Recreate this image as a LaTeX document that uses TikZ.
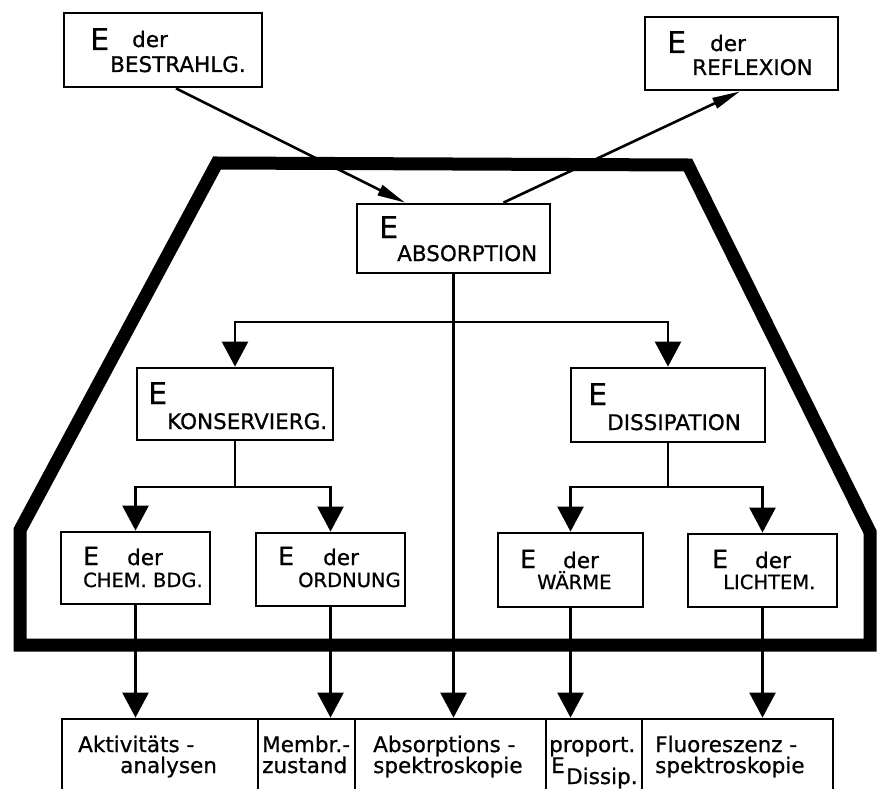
\documentclass[tikz,border=0pt]{standalone}
\usepackage{fontspec}
\setmainfont{DejaVu Sans}[FakeBold=0.8]
\usetikzlibrary{arrows.meta}
\begin{document}
\begin{tikzpicture}[x=1pt,y=-1pt,
  box/.style={draw, line width=2.8pt, inner sep=0pt, fill=white},
  txt/.style={anchor=base west, inner sep=0pt},
  bigE/.style={txt, font=\fontsize{30}{30}\selectfont},
  midE/.style={txt, font=\fontsize{25}{25}\selectfont},
  lab/.style={txt, font=\fontsize{21.5}{21.5}\selectfont},
  slab/.style={txt, font=\fontsize{19.5}{19.5}\selectfont},
  btxt/.style={txt, font=\fontsize{21.5}{21.5}\selectfont},
  conn/.style={line width=2.6pt},
  down/.style={conn, -{Triangle[length=25pt,width=26pt]}},
  diag/.style={conn, -{Triangle[length=28pt,width=11pt]}}]
\useasboundingbox (0,0) rectangle (878,789);
\clip (0,0) rectangle (878,789);
\fill[white] (0,0) rectangle (878,789);

% thick frame
\draw[line width=13pt, line join=miter] (217,163) -- (688,165) -- (870,532) -- (870,645) -- (20,645) -- (20,530) -- cycle;

% boxes
\node[box, minimum width=198pt, minimum height=74pt] (bestr) at (163,50) {};
\node[box, minimum width=193pt, minimum height=73pt] (refl) at (741.5,53.5) {};
\node[box, minimum width=193pt, minimum height=69pt] (absorp) at (453.5,238.5) {};
\node[box, minimum width=196pt, minimum height=72pt] (konserv) at (235,404) {};
\node[box, minimum width=194pt, minimum height=74pt] (dissip) at (668,405) {};
\node[box, minimum width=149pt, minimum height=72pt] (chem) at (135.5,568) {};
\node[box, minimum width=149pt, minimum height=73pt] (ordn) at (330.5,569.5) {};
\node[box, minimum width=145pt, minimum height=74pt] (waerme) at (570.5,570) {};
\node[box, minimum width=149pt, minimum height=73pt] (licht) at (762.5,570.5) {};

\node[box, minimum width=196pt, minimum height=111pt] (akt) at (160,774.5) {};
\node[box, minimum width=97pt, minimum height=111pt] (membr) at (306.5,774.5) {};
\node[box, minimum width=191pt, minimum height=111pt] (absspek) at (450.5,774.5) {};
\node[box, minimum width=96pt, minimum height=111pt] (prop) at (594,774.5) {};
\node[box, minimum width=191pt, minimum height=111pt] (fluor) at (737.5,774.5) {};

% texts in boxes
\node[bigE] at (90,50) {E};
\node[lab] at (132,47) {der};
\node[lab] at (110,72) {BESTRAHLG.};

\node[bigE] at (667,53) {E};
\node[lab] at (710,51) {der};
\node[lab] at (692,75) {REFLEXION};

\node[bigE] at (379,238) {E};
\node[lab] at (397,261) {ABSORPTION};

\node[bigE] at (148,404) {E};
\node[lab] at (167,429) {KONSERVIERG.};

\node[bigE] at (588,405) {E};
\node[lab] at (607,430) {DISSIPATION};

\node[midE] at (83,565) {E};
\node[lab] at (127,565) {der};
\node[slab] at (83,587) {CHEM. BDG.};

\node[midE] at (278,565) {E};
\node[lab] at (323,565) {der};
\node[slab] at (298,587) {ORDNUNG};

\node[midE] at (520,568) {E};
\node[lab] at (563,568) {der};
\node[slab] at (537,589) {WÄRME};

\node[midE] at (712,568) {E};
\node[lab] at (755,568) {der};
\node[slab] at (723,589) {LICHTEM.};

\node[btxt] at (78,752) {Aktivitäts -};
\node[btxt] at (120,773) {analysen};
\node[btxt] at (262,752) {Membr.-};
\node[btxt] at (262,773) {zustand};
\node[btxt] at (373,752) {Absorptions -};
\node[btxt] at (373,773) {spektroskopie};
\node[btxt] at (549,752) {proport.};
\node[btxt] at (551,773) {E};
\node[lab] at (566,784) {Dissip.};
\node[btxt] at (655,752) {Fluoreszenz -};
\node[btxt] at (655,773) {spektroskopie};

% connectors
\coordinate (b1) at (453.5,322);
\coordinate (b2) at (235,487);
\coordinate (b3) at (668,487);

\draw[diag] ([xshift=13pt]bestr.south) -- ([xshift=-48.5pt]absorp.north);
\draw[diag] ([xshift=50pt]absorp.north) -- ([xshift=-1.5pt]refl.south);

\draw[down] (absorp.south) -- (absorp.south |- absspek.north);
\draw[down] (b1) -| (konserv.north);
\draw[down] (b1) -| (dissip.north);

\draw[conn] (konserv.south) -- (b2);
\draw[down] (b2) -| (chem.north);
\draw[down] (b2) -| (ordn.north);

\draw[conn] (dissip.south) -- (b3);
\draw[down] (b3) -| (waerme.north);
\draw[down] (b3) -| (licht.north);

\draw[down] (chem.south) -- (chem.south |- akt.north);
\draw[down] (ordn.south) -- (ordn.south |- membr.north);
\draw[down] (waerme.south) -- (waerme.south |- prop.north);
\draw[down] (licht.south) -- (licht.south |- fluor.north);
\end{tikzpicture}
\end{document}
